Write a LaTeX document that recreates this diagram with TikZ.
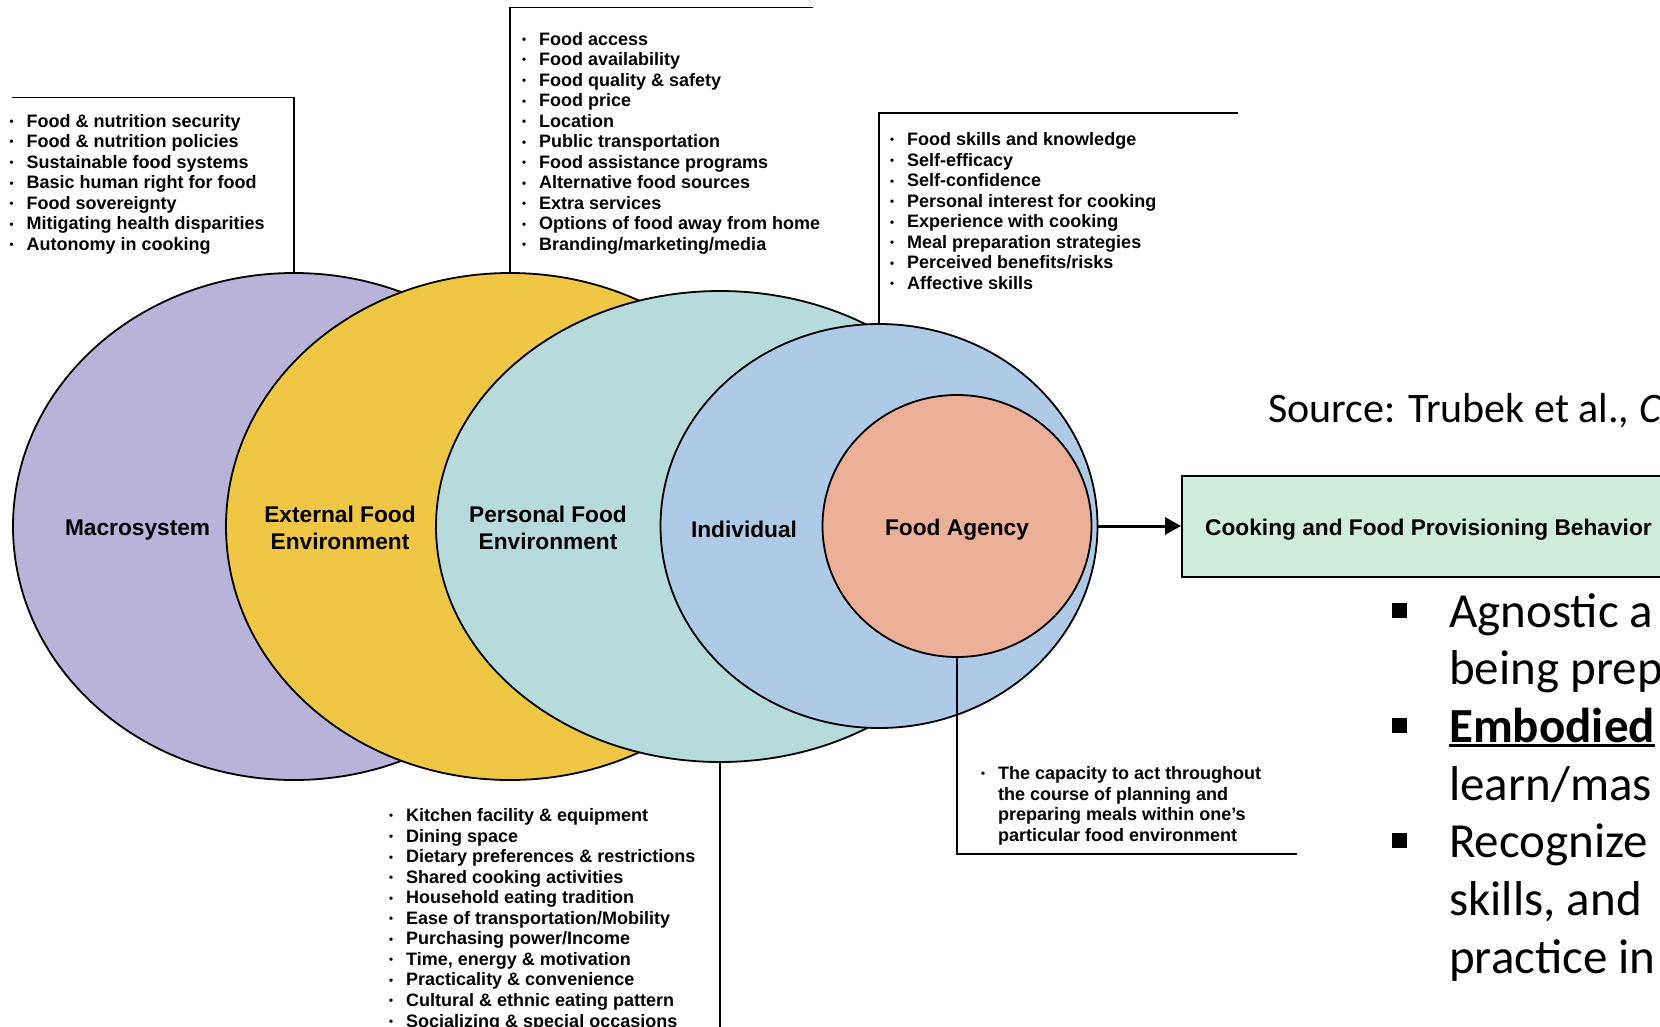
\documentclass[tikz,border=0pt]{standalone}
\usepackage{fontspec}
\setmainfont{Liberation Sans}
\newfontfamily\carlitofont{Carlito}
\usetikzlibrary{shapes.geometric,arrows.meta}
\definecolor{cmacro}{HTML}{B9B3D9}
\definecolor{cext}{HTML}{EFC744}
\definecolor{cpers}{HTML}{B7DBDB}
\definecolor{cind}{HTML}{AECAE6}
\definecolor{cagency}{HTML}{ECAF98}
\definecolor{cgreen}{HTML}{D0ECDD}
\newcommand\dotbul{\raisebox{1.6pt}{\fontsize{11.5}{11.5}\selectfont\textbullet}}
\newcommand\bi[1]{\makebox[17pt][l]{\dotbul}#1\\}
\newcommand\ci[1]{\hspace*{17pt}#1\\}
\newcommand\sqbul{\rule[9.5pt]{15pt}{15pt}}
\newcommand\myul[1]{\leavevmode\setbox0\hbox{#1}\rlap{\rule[-4.5pt]{\wd0}{3pt}}\box0}
\tikzset{
  ring/.style={ellipse, draw=black, line width=1.8pt, inner sep=0pt},
  lab/.style={font=\fontsize{22.7}{26.5}\selectfont\bfseries, align=center, inner sep=0pt},
  lst/.style={font=\fontsize{18}{20.55}\selectfont\bfseries, anchor=base west, inner sep=0pt},
  leader/.style={draw=black, line width=1.8pt},
  big/.style={font=\carlitofont\fontsize{49}{57.7}\selectfont, anchor=base west, inner sep=0pt},
  src/.style={font=\carlitofont\fontsize{42}{50}\selectfont, anchor=base west, inner sep=0pt},
}
\begin{document}
\begin{tikzpicture}[x=1pt,y=-1pt]
\useasboundingbox (0,0) rectangle (1660,1026);
\fill[white] (0,0) rectangle (1660,1026);

% nested ellipses
\node[ring, fill=cmacro, minimum width=562pt, minimum height=507pt] (macro) at (294,526.5) {};
\node[ring, fill=cext, minimum width=568pt, minimum height=507pt] (ext) at (510,526.5) {};
\node[ring, fill=cpers, minimum width=568pt, minimum height=471pt] (pers) at (720,526.5) {};
\node[ring, fill=cind, minimum width=437pt, minimum height=404pt] (ind) at (879,526) {};
\node[ring, fill=cagency, minimum width=269pt, minimum height=262pt] (agency) at (957,526) {};

% labels
\node[lab] (lmacro) at (137.6,530) {Macrosystem};
\node[lab] (lext) at (340,528) {External Food\\Environment};
\node[lab] (lpers) at (548,528) {Personal Food\\Environment};
\node[lab] (lind) at (744,529) {Individual};
\node[lab] (lagency) at (957,530) {Food Agency};

% outcome box and arrow
\node[draw=black, line width=1.8pt, fill=cgreen, minimum height=101pt, minimum width=520pt, anchor=west, inner sep=0pt] (behav) at (1181,526.5) {};
\node[lab, anchor=west] (lbehav) at (1205,530) {Cooking and Food Provisioning Behavior};
\draw[line width=3pt, -{Triangle[length=16pt,width=17pt]}] (ind.east) -- (ind.east -| behav.west);

% leader lines
\coordinate (t1) at (294,97.4);
\coordinate (t1e) at (12,97.4);
\draw[leader] (macro.north) -- (t1) -- (t1e);
\coordinate (t2) at (510,7.4);
\coordinate (t2e) at (813,7.4);
\draw[leader] (ext.north) -- (t2) -- (t2e);
\coordinate (t3) at (879,113);
\coordinate (t3e) at (1238,113);
\draw[leader] (ind.north) -- (t3) -- (t3e);
\coordinate (t4) at (720,1030);
\draw[leader] (pers.south) -- (t4);
\coordinate (t5) at (957,854);
\coordinate (t5e) at (1297,854);
\draw[leader] (agency.south) -- (t5) -- (t5e);

% lists
\node[lst] (list1) at (9.5,127) {\begin{tabular}[t]{@{}l@{}}
\bi{Food \& nutrition security}
\bi{Food \& nutrition policies}
\bi{Sustainable food systems}
\bi{Basic human right for food}
\bi{Food sovereignty}
\bi{Mitigating health disparities}
\bi{Autonomy in cooking}
\end{tabular}};
\node[lst] (list2) at (522,45) {\begin{tabular}[t]{@{}l@{}}
\bi{Food access}
\bi{Food availability}
\bi{Food quality \& safety}
\bi{Food price}
\bi{Location}
\bi{Public transportation}
\bi{Food assistance programs}
\bi{Alternative food sources}
\bi{Extra services}
\bi{Options of food away from home}
\bi{Branding/marketing/media}
\end{tabular}};
\node[lst] (list3) at (890,145.5) {\begin{tabular}[t]{@{}l@{}}
\bi{Food skills and knowledge}
\bi{Self-efficacy}
\bi{Self-confidence}
\bi{Personal interest for cooking}
\bi{Experience with cooking}
\bi{Meal preparation strategies}
\bi{Perceived benefits/risks}
\bi{Affective skills}
\end{tabular}};
\node[lst] (list4) at (389,821.5) {\begin{tabular}[t]{@{}l@{}}
\bi{Kitchen facility \& equipment}
\bi{Dining space}
\bi{Dietary preferences \& restrictions}
\bi{Shared cooking activities}
\bi{Household eating tradition}
\bi{Ease of transportation/Mobility}
\bi{Purchasing power/Income}
\bi{Time, energy \& motivation}
\bi{Practicality \& convenience}
\bi{Cultural \& ethnic eating pattern}
\bi{Socializing \& special occasions}
\end{tabular}};
\node[lst] (list5) at (981,779.5) {\begin{tabular}[t]{@{}l@{}}
\bi{The capacity to act throughout}
\ci{the course of planning and}
\ci{preparing meals within one's}
\ci{particular food environment}
\end{tabular}};

% source and slide bullets
\node[src] (source) at (1268,422) {Source: Trubek et al., \textit{C}};
\node[big] (slide) at (1392,627) {\begin{tabular}[t]{@{}l@{\hspace{42pt}}l@{}}
\sqbul & Agnostic a\\
 & being prep\\
\sqbul & \myul{\textbf{Embodied}}\\
 & learn/mas\\
\sqbul & Recognize\\
 & skills, and\\
 & practice in\\
\end{tabular}};
\end{tikzpicture}
\end{document}
